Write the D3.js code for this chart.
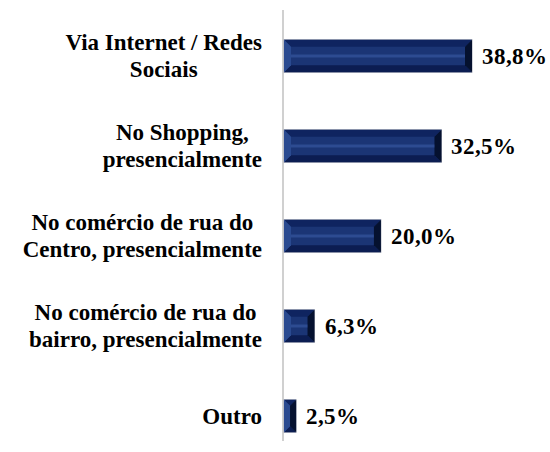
<!DOCTYPE html>
<html><head><meta charset="utf-8">
<script src="https://cdn.jsdelivr.net/npm/d3@7"></script>
<style>
@font-face{font-family:"ChartSerif";font-weight:bold;src:local("Liberation Serif Bold"),local("LiberationSerif-Bold")}
body{margin:0;background:#fff}
#wrap{position:relative;width:550px;height:452px}
svg{display:block;position:absolute;left:0;top:0}
.lbl{position:absolute;color:#000;white-space:nowrap;transform:translateY(-50%)}
.cat{text-align:center}
.val{font:bold 23px/27px ChartSerif,'Liberation Serif'}
</style>
</head><body>
<div id="wrap"></div>
<script>
const categories = [
  ["Via Internet / Redes", "Sociais"],
  ["No Shopping,", "presencialmente"],
  ["No comércio de rua do", "Centro, presencialmente"],
  ["No comércio de rua do", "bairro, presencialmente"],
  ["Outro"]
];
const values = [38.8, 32.5, 20.0, 6.3, 2.5];
const valueLabels = ["38,8%", "32,5%", "20,0%", "6,3%", "2,5%"];

const W = 550, H = 452;
const x0 = 284;
const wrap = d3.select("#wrap");
const svg = wrap.append("svg").attr("width", W).attr("height", H);

const x = d3.scaleLinear().domain([0, 38.8]).range([x0, 472]);
const y = d3.scaleBand().domain(d3.range(values.length)).range([11, 461]).paddingInner(0.64).paddingOuter(0.32);

svg.append("line").attr("x1", x0 - 1).attr("x2", x0 - 1).attr("y1", 10).attr("y2", 441)
  .attr("stroke", "#d0d0d0").attr("stroke-width", 2);

const bw = y.bandwidth();
const g = svg.selectAll("g.bar").data(values).join("g").attr("class", "bar");
g.each(function(v, i) {
  const s = d3.select(this);
  const xa = x(0), xb = x(v), ya = y(i), yb = ya + bw;
  const w = xb - xa;
  const b = Math.min(7, w / 2, bw / 2);
  s.append("rect").attr("x", xa).attr("y", ya).attr("width", w).attr("height", bw)
    .attr("fill", "#1b3575").attr("stroke", "#a8acb8").attr("stroke-width", 1);
  s.append("path").attr("d", `M${xa},${ya}L${xb},${ya}L${xb - b},${ya + b}L${xa + b},${ya + b}Z`).attr("fill", "#0f2460");
  s.append("path").attr("d", `M${xa},${yb}L${xb},${yb}L${xb - b},${yb - b}L${xa + b},${yb - b}Z`).attr("fill", "#0c1d52");
  s.append("path").attr("d", `M${xa},${ya}L${xa + b},${ya + b}L${xa + b},${yb - b}L${xa},${yb}Z`).attr("fill", "#2a4a90");
  s.append("path").attr("d", `M${xb},${ya}L${xb - b},${ya + b}L${xb - b},${yb - b}L${xb},${yb}Z`).attr("fill", "#05112f");
  if (w > 2 * b) {
    s.append("rect").attr("x", xa + b).attr("y", ya + bw / 2 - 1.5).attr("width", w - 2 * b).attr("height", 3)
      .attr("fill", "#3a5aa4").attr("opacity", 0.6);
  }
});

// value labels (font via @font-face alias)
wrap.selectAll("div.val").data(values).join("div").attr("class", "lbl val")
  .style("left", d => (x(d) + 10) + "px")
  .style("top", (d, i) => (y(i) + bw / 2) + "px")
  .text((d, i) => valueLabels[i]);

// category labels (font via inline style attribute, like a static div)
const right = 262;
wrap.selectAll("div.cat").data(categories).join("div").attr("class", "lbl cat")
  .style("right", (W - right) + "px")
  .style("top", (d, i) => (y(i) + bw / 2) + "px")
  .html(d => `<div style="font:bold 23px/27px 'Liberation Serif'">` + d.join("<br>") + `</div>`);
</script>
</body></html>
